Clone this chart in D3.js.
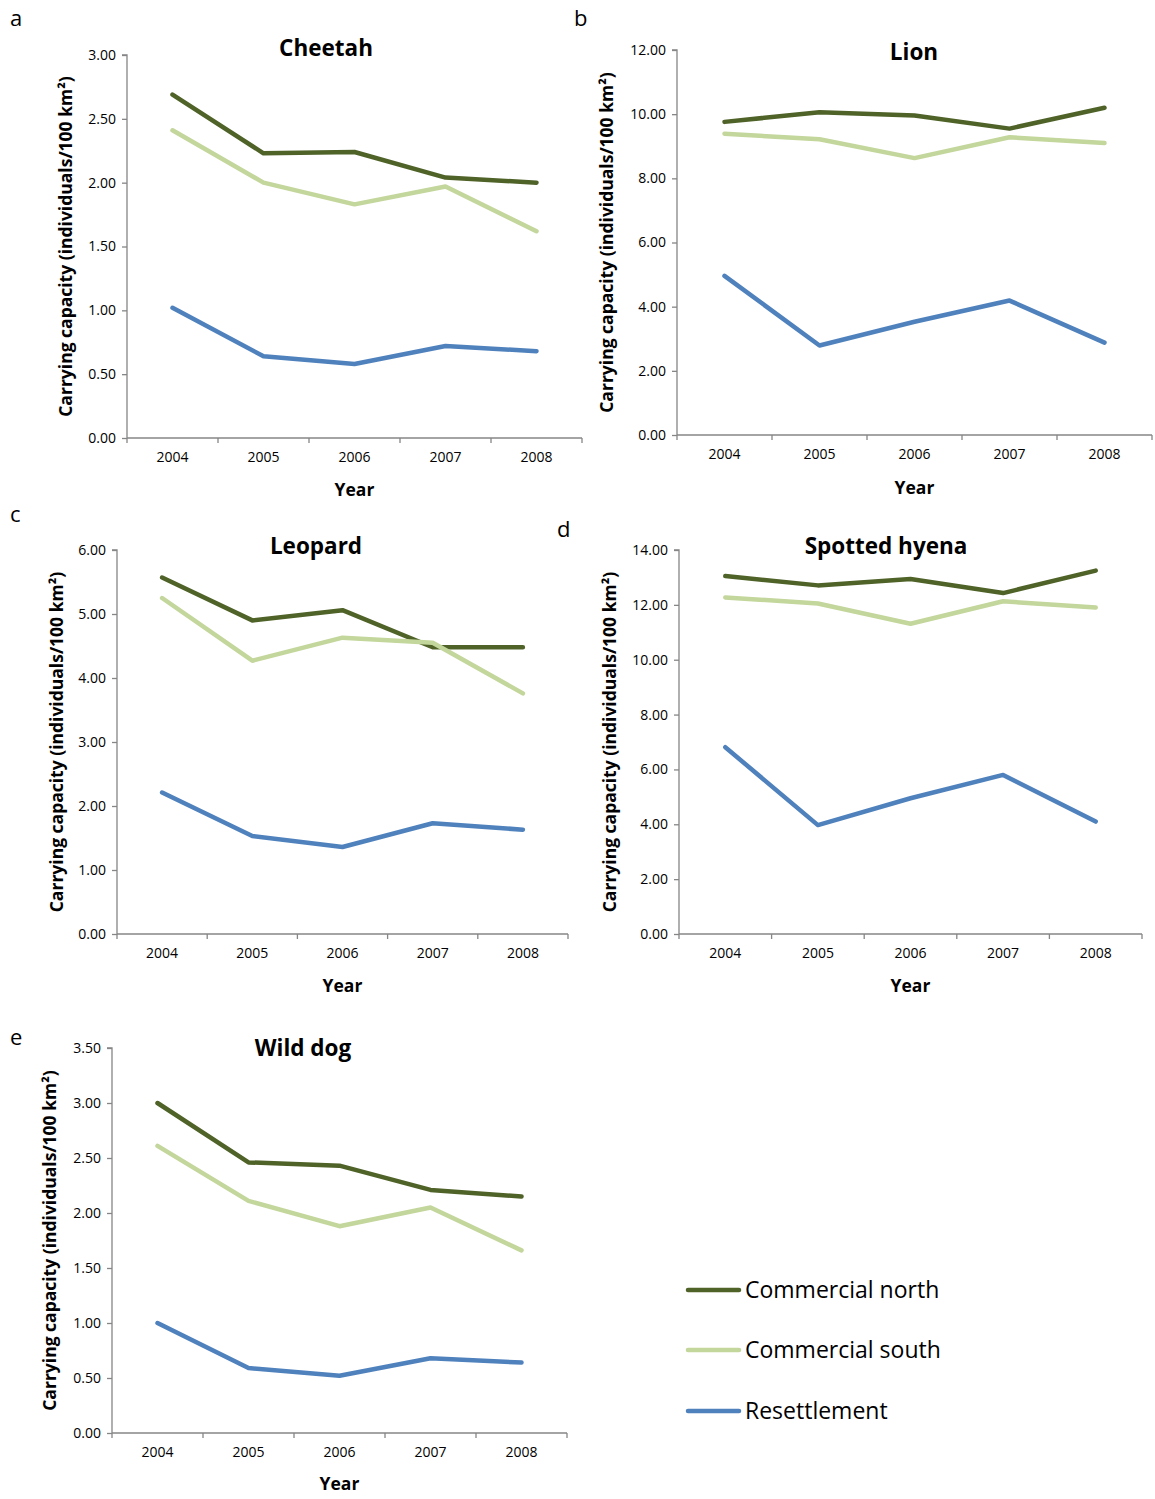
<!DOCTYPE html>
<html>
<head>
<meta charset="utf-8">
<script src="https://cdn.jsdelivr.net/npm/d3@7"></script>
<style>
  body { margin: 0; background: #fff; }
  svg { display: block; font-family: "Open Sans", sans-serif; }
</style>
</head>
<body>
<svg id="chart" width="1155" height="1499"></svg>
<script>
// ---------- DATA ----------
const years = ["2004", "2005", "2006", "2007", "2008"];
const seriesNames = ["Commercial north", "Commercial south", "Resettlement"];

const cheetahNorth = [2.69, 2.23, 2.24, 2.04, 2.00];
const cheetahSouth = [2.41, 2.00, 1.83, 1.97, 1.62];
const cheetahResettlement = [1.02, 0.64, 0.58, 0.72, 0.68];
const cheetahTicks = [0, 0.5, 1.0, 1.5, 2.0, 2.5, 3.0];

const lionNorth = [9.76, 10.06, 9.96, 9.55, 10.20];
const lionSouth = [9.39, 9.22, 8.63, 9.28, 9.10];
const lionResettlement = [4.96, 2.79, 3.53, 4.19, 2.88];
const lionTicks = [0, 2, 4, 6, 8, 10, 12];

const leopardNorth = [5.57, 4.90, 5.06, 4.48, 4.48];
const leopardSouth = [5.25, 4.27, 4.63, 4.55, 3.76];
const leopardResettlement = [2.21, 1.53, 1.36, 1.73, 1.63];
const leopardTicks = [0, 1, 2, 3, 4, 5, 6];

const hyenaNorth = [13.05, 12.71, 12.94, 12.43, 13.25];
const hyenaSouth = [12.27, 12.05, 11.31, 12.13, 11.90];
const hyenaResettlement = [6.81, 3.97, 4.95, 5.80, 4.10];
const hyenaTicks = [0, 2, 4, 6, 8, 10, 12, 14];

const wildDogNorth = [3.00, 2.46, 2.43, 2.21, 2.15];
const wildDogSouth = [2.61, 2.11, 1.88, 2.05, 1.66];
const wildDogResettlement = [1.00, 0.59, 0.52, 0.68, 0.64];
const wildDogTicks = [0, 0.5, 1.0, 1.5, 2.0, 2.5, 3.0, 3.5];

const panelTitles = ["Cheetah", "Lion", "Leopard", "Spotted hyena", "Wild dog"];
const panelLetters = ["a", "b", "c", "d", "e"];
const yTitle = "Carrying capacity (individuals/100 km²)";
const xTitle = "Year";

// ---------- STYLE / LAYOUT ----------
const colors = ["#4F6228", "#C3D69B", "#4F81BD"];
const axisColor = "#868686";

const panels = [
  { title: panelTitles[0], letter: panelLetters[0], series: [cheetahNorth, cheetahSouth, cheetahResettlement], ticks: cheetahTicks,
    x0: 127, x1: 582, yTop: 55, yBot: 438, titleX: 326, titleY: 56, letterX: 10, letterY: 26, yTitleX: 72, xTitleY: 496 },
  { title: panelTitles[1], letter: panelLetters[1], series: [lionNorth, lionSouth, lionResettlement], ticks: lionTicks,
    x0: 677, x1: 1152, yTop: 50, yBot: 435, titleX: 914, titleY: 60, letterX: 574, letterY: 26, yTitleX: 613, xTitleY: 494 },
  { title: panelTitles[2], letter: panelLetters[2], series: [leopardNorth, leopardSouth, leopardResettlement], ticks: leopardTicks,
    x0: 117, x1: 568, yTop: 550, yBot: 934, titleX: 316, titleY: 554, letterX: 10, letterY: 522, yTitleX: 63, xTitleY: 992 },
  { title: panelTitles[3], letter: panelLetters[3], series: [hyenaNorth, hyenaSouth, hyenaResettlement], ticks: hyenaTicks,
    x0: 679, x1: 1142, yTop: 550, yBot: 934, titleX: 886, titleY: 554, letterX: 557, letterY: 537, yTitleX: 616, xTitleY: 992 },
  { title: panelTitles[4], letter: panelLetters[4], series: [wildDogNorth, wildDogSouth, wildDogResettlement], ticks: wildDogTicks,
    x0: 112, x1: 567, yTop: 1048, yBot: 1433, titleX: 303, titleY: 1056, letterX: 10, letterY: 1045, yTitleX: 56, xTitleY: 1490 }
];

const svg = d3.select("#chart");

panels.forEach(p => {
  const g = svg.append("g");
  const x = d3.scaleBand().domain(years).range([p.x0, p.x1]);
  const y = d3.scaleLinear().domain([0, d3.max(p.ticks)]).range([p.yBot, p.yTop]);

  // y axis
  const ya = g.append("g").attr("transform", `translate(${p.x0},0)`)
    .call(d3.axisLeft(y).tickValues(p.ticks).tickFormat(d3.format(".2f")).tickSize(5).tickPadding(6));
  ya.select(".domain").attr("stroke", axisColor).attr("stroke-width", 1.3).attr("d", `M-5,${p.yTop}H0V${p.yBot}`);
  ya.selectAll(".tick line").attr("stroke", axisColor).attr("stroke-width", 1.3);
  ya.selectAll(".tick text").attr("fill", "#000").attr("font-size", 14).attr("font-family", "'Open Sans', sans-serif");

  // x axis: ticks at band boundaries
  const xa = g.append("g").attr("transform", `translate(0,${p.yBot})`)
    .call(d3.axisBottom(x).tickSize(0).tickPadding(14));
  xa.select(".domain").attr("stroke", axisColor).attr("stroke-width", 1.3).attr("d", `M${p.x0},0H${p.x1}`);
  xa.selectAll(".tick text").attr("fill", "#000").attr("font-size", 14).attr("font-family", "'Open Sans', sans-serif");
  const bounds = years.map(d => x(d)).concat([x(years[years.length - 1]) + x.bandwidth()]);
  xa.selectAll("line.bt").data(bounds).join("line").attr("class", "bt")
    .attr("x1", d => d).attr("x2", d => d).attr("y1", 0).attr("y2", 5)
    .attr("stroke", axisColor).attr("stroke-width", 1.3);

  // lines
  const line = d3.line().x((d, i) => x(years[i]) + x.bandwidth() / 2).y(d => y(d));
  p.series.forEach((s, i) => {
    g.append("path").datum(s).attr("d", line)
      .attr("fill", "none").attr("stroke", colors[i]).attr("stroke-width", 4.5)
      .attr("stroke-linejoin", "round").attr("stroke-linecap", "round");
  });

  // titles
  g.append("text").attr("x", p.titleX).attr("y", p.titleY).attr("text-anchor", "middle")
    .attr("font-size", 22.5).attr("font-weight", "bold").text(p.title);
  g.append("text").attr("x", p.letterX).attr("y", p.letterY)
    .attr("font-size", 22).text(p.letter);
  g.append("text").attr("transform", `translate(${p.yTitleX},${(p.yTop + p.yBot) / 2}) rotate(-90)`)
    .attr("text-anchor", "middle").attr("font-size", 17.5).attr("font-weight", "bold").text(yTitle);
  g.append("text").attr("x", (p.x0 + p.x1) / 2).attr("y", p.xTitleY).attr("text-anchor", "middle")
    .attr("font-size", 17.5).attr("font-weight", "bold").text(xTitle);
});

// legend
const legendY = [1290, 1350, 1411];
const lg = svg.append("g");
seriesNames.forEach((n, i) => {
  lg.append("line").attr("x1", 688).attr("x2", 739).attr("y1", legendY[i]).attr("y2", legendY[i])
    .attr("stroke", colors[i]).attr("stroke-width", 4.5).attr("stroke-linecap", "round");
  lg.append("text").attr("x", 745).attr("y", legendY[i] + 8).attr("font-size", 23).text(n);
});
</script>
</body>
</html>
